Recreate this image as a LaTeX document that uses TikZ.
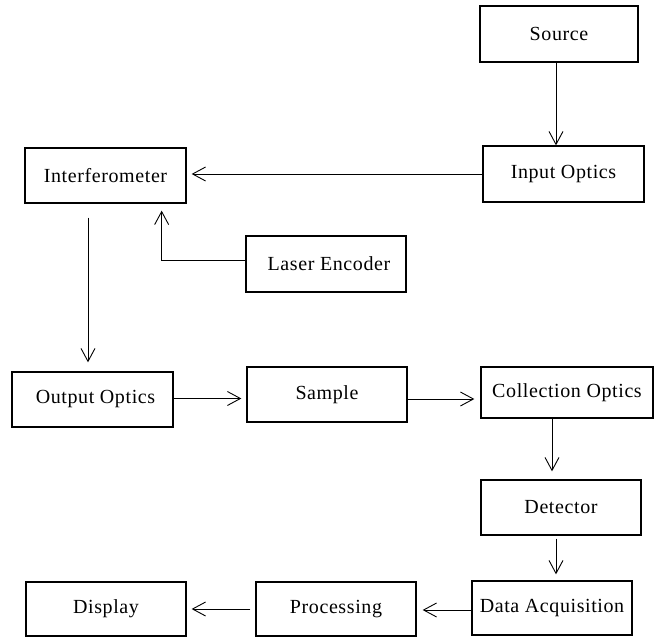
\documentclass[tikz,border=0pt]{standalone}
\usepackage{fontspec}
\setmainfont[LetterSpace=3]{Liberation Serif}
\usetikzlibrary{arrows.meta,calc}
\begin{document}
\begin{tikzpicture}[x=1pt,y=-1pt,
  blk/.style={draw=black,line width=1.3pt,rectangle,inner sep=0pt,
    font=\fontsize{20}{23}\selectfont},
  arr/.style={draw=black,line width=0.9pt,-{Straight Barb[length=13pt,width=14pt,line width=0.9pt]}}]
\useasboundingbox (0,0) rectangle (654,637);
\node[blk,minimum width=158pt,minimum height=56pt] (source) at (559,34) {Source};
\node[blk,minimum width=161pt,minimum height=56pt] (input) at (563.5,174) {Input Optics};
\node[blk,minimum width=161pt,minimum height=55pt] (interf) at (105.5,175.5) {Interferometer};
\node[blk,minimum width=160pt,minimum height=56pt] (laser) at (326,264) {\hspace*{6pt}Laser Encoder};
\node[blk,minimum width=161pt,minimum height=55pt] (output) at (92.5,399.5) {\hspace*{6pt}Output Optics};
\node[blk,minimum width=160pt,minimum height=55pt] (sample) at (327,394.5) {Sample};
\node[blk,minimum width=172pt,minimum height=51pt] (coll) at (567,392.5) {Collection Optics};
\node[blk,minimum width=160pt,minimum height=55pt] (det) at (561,507.5) {Detector};
\node[blk,minimum width=160pt,minimum height=54pt] (data) at (552,608) {Data Acquisition};
\node[blk,minimum width=160pt,minimum height=54pt] (proc) at (336,609) {Processing};
\node[blk,minimum width=160pt,minimum height=54pt] (disp) at (106,609) {Display};
% connectors
\draw[arr] ([xshift=-3pt]source.south) -- ([xshift=-3pt]source.south |- input.north);
\draw[arr,shorten >=5pt] (input.west) -- (input.west -| interf.east);
\draw[arr,shorten >=7pt] ([yshift=4pt]laser.west) -| ($(interf.south east)+(-25pt,0)$);
\draw[arr,shorten <=14pt,shorten >=9pt] ([xshift=-17.5pt]interf.south) -- ([xshift=-17.5pt]interf.south |- output.north);
\draw[arr,shorten >=5pt] ([yshift=1pt]output.east) -- ([yshift=1pt]output.east -| sample.west);
\draw[arr,shorten >=6pt] ([yshift=-4.5pt]sample.east) -- ([yshift=-4.5pt]sample.east -| coll.west);
\draw[arr,shorten >=8pt] ([xshift=-15pt]coll.south) -- ([xshift=-15pt]coll.south |- det.north);
\draw[arr,shorten <=3pt,shorten >=6pt] ([xshift=-5pt]det.south) -- ([xshift=-5pt]det.south |- data.north);
\draw[arr,shorten >=6pt] ([yshift=-2pt]data.west) -- ([yshift=-2pt]data.west -| proc.east);
\draw[arr,shorten <=5pt,shorten >=5pt] (proc.west) -- (proc.west -| disp.east);
\end{tikzpicture}
\end{document}
